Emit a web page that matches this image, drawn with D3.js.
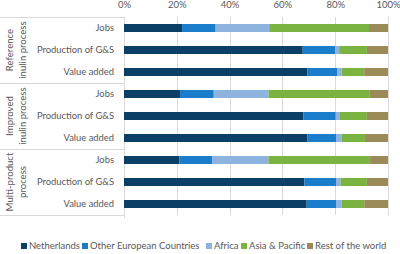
<!DOCTYPE html>
<html>
<head>
<meta charset="utf-8">
<script src="https://cdn.jsdelivr.net/npm/d3@7"></script>
<style>
  html, body { margin: 0; padding: 0; background: #fff; }
  svg { display: block; font-family: Lato, 'Open Sans', sans-serif; }
</style>
</head>
<body>
<svg id="chart" width="400" height="254"></svg>
<script>
  'use strict';

  const groups = ['Reference\ninulin process', 'Improved\ninulin process', 'Multi-product\nprocess'];
  const indicators = ['Jobs', 'Production of G&S', 'Value added'];
  const regions = ['Netherlands', 'Other European Countries', 'Africa', 'Asia & Pacific', 'Rest of the world'];
  const colors = ['#0c3f66', '#1a7dcc', '#8db3de', '#7ab342', '#9b8b58'];
  const ticks = [0, 0.2, 0.4, 0.6, 0.8, 1];

  // shares per row, in the order groups x indicators
  const netherlands = [0.22, 0.677, 0.694, 0.212, 0.68, 0.694, 0.21, 0.683, 0.692];
  const otherEurope = [0.127, 0.123, 0.113, 0.128, 0.122, 0.111, 0.125, 0.122, 0.113];
  const africa      = [0.203, 0.015, 0.018, 0.207, 0.016, 0.02, 0.212, 0.015, 0.02];
  const asiaPacific = [0.378, 0.105, 0.085, 0.382, 0.102, 0.088, 0.382, 0.1, 0.085];
  const restOfWorld = [0.072, 0.08, 0.09, 0.071, 0.08, 0.087, 0.071, 0.08, 0.09];

  (function () {
    const seriesValues = [netherlands, otherEurope, africa, asiaPacific, restOfWorld];
    const rows = [];
    groups.forEach(function (g, gi) {
      indicators.forEach(function (ind, ii) {
        const i = gi * indicators.length + ii;
        const row = { key: gi + '|' + ind, group: gi, label: ind };
        regions.forEach(function (r, ri) { row[r] = seriesValues[ri][i]; });
        rows.push(row);
      });
    });

    const svg = d3.select('#chart');
    const plotLeft = 124, plotRight = 388, plotTop = 17, plotBottom = 215;
    const textColor = '#595959';
    const lineColor = '#d9d9d9';

    const x = d3.scaleLinear().domain([0, 1]).range([plotLeft, plotRight]);
    const y = d3.scaleBand()
      .domain(rows.map(function (d) { return d.key; }))
      .range([plotTop, plotBottom])
      .paddingInner(0.636)
      .paddingOuter(0.318);

    // gridlines
    svg.append('g').selectAll('line')
      .data(ticks.slice(1))
      .join('line')
      .attr('x1', function (d) { return Math.round(x(d)) + 0.5; })
      .attr('x2', function (d) { return Math.round(x(d)) + 0.5; })
      .attr('y1', plotTop)
      .attr('y2', plotBottom)
      .attr('stroke', lineColor)
      .attr('stroke-width', 1);

    // top axis labels
    const xAxis = svg.append('g')
      .attr('transform', 'translate(0,' + plotTop + ')')
      .call(d3.axisTop(x).tickValues(ticks).tickFormat(d3.format('.0%')).tickSize(0).tickPadding(9));
    xAxis.select('.domain').remove();
    xAxis.selectAll('text')
      .attr('fill', textColor)
      .attr('font-size', 9.5)
      .attr('font-family', 'Lato, sans-serif');

    // category axis line and group separators
    const step = y.step();
    svg.append('line')
      .attr('x1', plotLeft + 0.5).attr('x2', plotLeft + 0.5)
      .attr('y1', plotTop).attr('y2', plotBottom + 3)
      .attr('stroke', lineColor);
    const seps = d3.range(groups.length + 1).map(function (i) { return plotTop + i * step * indicators.length; });
    svg.append('g').selectAll('line')
      .data(seps)
      .join('line')
      .attr('x1', 0)
      .attr('x2', plotLeft)
      .attr('y1', function (d) { return Math.round(d) + 0.5; })
      .attr('y2', function (d) { return Math.round(d) + 0.5; })
      .attr('stroke', lineColor);

    // row labels
    svg.append('g').selectAll('text')
      .data(rows)
      .join('text')
      .attr('x', plotLeft - 10)
      .attr('y', function (d) { return y(d.key) + y.bandwidth() / 2; })
      .attr('dy', '0.35em')
      .attr('text-anchor', 'end')
      .attr('fill', textColor)
      .attr('font-size', 9.4)
      .text(function (d) { return d.label; });

    // group labels, rotated
    const groupLabels = svg.append('g').selectAll('text')
      .data(groups)
      .join('text')
      .attr('transform', function (_, i) {
        const cy = (seps[i] + seps[i + 1]) / 2;
        return 'translate(16,' + cy + ') rotate(-90)';
      })
      .attr('text-anchor', 'middle')
      .attr('fill', textColor)
      .attr('font-size', 9.6);
    groupLabels.each(function (d) {
      const lines = d.split('\n');
      const t = d3.select(this);
      lines.forEach(function (l, li) {
        t.append('tspan')
          .attr('x', 0)
          .attr('y', (li - (lines.length - 1) / 2) * 12.5)
          .attr('dy', '0.35em')
          .text(l);
      });
    });

    // stacked bars
    const stacked = d3.stack().keys(regions)(rows);
    svg.append('g').selectAll('g')
      .data(stacked)
      .join('g')
      .attr('fill', function (_, i) { return colors[i]; })
      .selectAll('rect')
      .data(function (d) { return d; })
      .join('rect')
      .attr('x', function (d) { return x(d[0]); })
      .attr('width', function (d) { return x(d[1]) - x(d[0]); })
      .attr('y', function (d) { return y(d.data.key); })
      .attr('height', y.bandwidth());

    // legend
    const legendX = [21, 82, 206, 241, 307];
    const legend = svg.append('g').selectAll('g')
      .data(regions)
      .join('g')
      .attr('transform', function (_, i) { return 'translate(' + legendX[i] + ',246)'; });
    legend.append('rect')
      .attr('x', 0).attr('y', -3)
      .attr('width', 6).attr('height', 6)
      .attr('fill', function (_, i) { return colors[i]; });
    legend.append('text')
      .attr('x', 8)
      .attr('dy', '0.35em')
      .attr('fill', textColor)
      .attr('font-size', 9.5)
      .text(function (d) { return d; });
  })();
</script>
</body>
</html>
